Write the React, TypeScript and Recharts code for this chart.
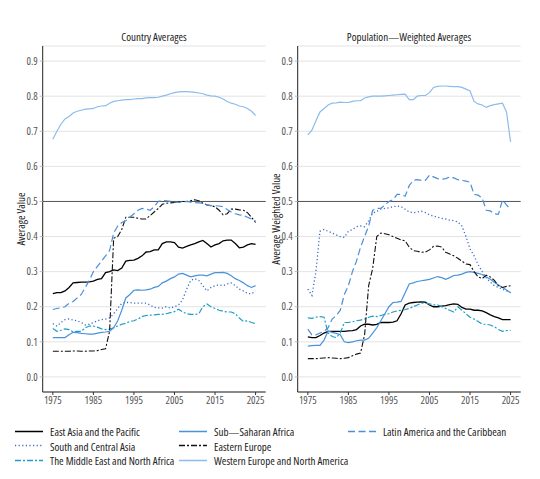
import React from 'react';
import { LineChart, Line, XAxis, YAxis, CartesianGrid, ReferenceLine } from 'recharts';

const FONT = "'Open Sans', 'Roboto', sans-serif";

const years = [
  1975, 1976, 1977, 1978, 1979, 1980, 1981, 1982, 1983, 1984, 1985, 1986, 1987, 1988, 1989,
  1990, 1991, 1992, 1993, 1994, 1995, 1996, 1997, 1998, 1999, 2000, 2001, 2002, 2003, 2004,
  2005, 2006, 2007, 2008, 2009, 2010, 2011, 2012, 2013, 2014, 2015, 2016, 2017, 2018, 2019,
  2020, 2021, 2022, 2023, 2024, 2025,
];
const xTicks = [1975, 1985, 1995, 2005, 2015, 2025];
const yTicks = [0, 0.1, 0.2, 0.3, 0.4, 0.5, 0.6, 0.7, 0.8, 0.9];

// Country averages
const eastAsiaAvg = [
  0.237, 0.24, 0.24, 0.245, 0.255, 0.268, 0.269, 0.27, 0.27, 0.271, 0.273, 0.278, 0.28, 0.297, 0.3,
  0.305, 0.303, 0.31, 0.33, 0.332, 0.333, 0.338, 0.345, 0.356, 0.357, 0.362, 0.362, 0.38, 0.385, 0.385,
  0.383, 0.37, 0.367, 0.372, 0.376, 0.38, 0.385, 0.389, 0.38, 0.37, 0.376, 0.38, 0.388, 0.39, 0.39,
  0.38, 0.368, 0.37, 0.376, 0.38, 0.378,
];
const southAsiaAvg = [
  0.152, 0.145, 0.155, 0.163, 0.165, 0.162, 0.16, 0.155, 0.148, 0.15, 0.155, 0.16, 0.163, 0.165, 0.168,
  0.18, 0.195, 0.21, 0.212, 0.212, 0.21, 0.21, 0.21, 0.21, 0.205, 0.198, 0.197, 0.196, 0.2, 0.196,
  0.2, 0.205, 0.22, 0.25, 0.275, 0.28, 0.275, 0.26, 0.245, 0.255, 0.26, 0.262, 0.26, 0.265, 0.268,
  0.26, 0.25, 0.245, 0.238, 0.237, 0.245,
];
const menaAvg = [
  0.138, 0.13, 0.133, 0.137, 0.135, 0.128, 0.13, 0.13, 0.14, 0.145, 0.145, 0.142, 0.137, 0.135, 0.136,
  0.14, 0.145, 0.15, 0.153, 0.158, 0.16, 0.165, 0.172, 0.175, 0.176, 0.177, 0.178, 0.178, 0.18, 0.183,
  0.186, 0.193, 0.185, 0.18, 0.178, 0.178, 0.18, 0.2, 0.208, 0.2, 0.195, 0.19, 0.187, 0.185, 0.185,
  0.18, 0.168, 0.158, 0.16, 0.155, 0.152,
];
const subSaharanAvg = [
  0.112, 0.112, 0.112, 0.112, 0.12, 0.127, 0.126, 0.124, 0.123, 0.122, 0.122, 0.125, 0.127, 0.128, 0.13,
  0.14, 0.16, 0.19, 0.225, 0.235, 0.247, 0.248, 0.247, 0.248, 0.25, 0.255, 0.258, 0.268, 0.273, 0.28,
  0.285, 0.293, 0.295, 0.29, 0.285, 0.288, 0.29, 0.29, 0.288, 0.293, 0.297, 0.297, 0.298, 0.295, 0.288,
  0.28, 0.275, 0.268, 0.26, 0.255, 0.26,
];
const easternEuropeAvg = [
  0.073, 0.073, 0.073, 0.073, 0.073, 0.074, 0.074, 0.073, 0.073, 0.074, 0.074, 0.075, 0.078, 0.08, 0.13,
  0.395, 0.4, 0.42, 0.455, 0.455, 0.455, 0.452, 0.45, 0.45, 0.46, 0.47, 0.48, 0.492, 0.495, 0.496,
  0.497, 0.498, 0.5, 0.5, 0.502, 0.505, 0.502, 0.495, 0.49, 0.488, 0.485, 0.475, 0.462, 0.465, 0.478,
  0.478, 0.476, 0.475, 0.468, 0.455, 0.44,
];
const westernEuropeAvg = [
  0.677, 0.7, 0.72, 0.735, 0.742, 0.752, 0.757, 0.76, 0.763, 0.764, 0.765, 0.77, 0.772, 0.773, 0.78,
  0.785, 0.787, 0.789, 0.79, 0.79, 0.792, 0.793, 0.793, 0.795, 0.796, 0.796, 0.797, 0.8, 0.803, 0.807,
  0.81, 0.812, 0.813, 0.813, 0.812, 0.811, 0.809, 0.807, 0.803, 0.801, 0.8, 0.797, 0.792, 0.785, 0.78,
  0.777, 0.772, 0.77, 0.765, 0.757, 0.745,
];
const latinAmericaAvg = [
  0.192, 0.195, 0.197, 0.2, 0.21, 0.215, 0.225, 0.235, 0.255, 0.275, 0.3, 0.315, 0.33, 0.345, 0.36,
  0.41, 0.43, 0.44, 0.445, 0.455, 0.465, 0.475, 0.48, 0.478, 0.475, 0.485, 0.5, 0.503, 0.502, 0.5,
  0.498, 0.497, 0.498, 0.5, 0.498, 0.497, 0.496, 0.495, 0.49, 0.488, 0.488, 0.487, 0.485, 0.477, 0.47,
  0.465, 0.462, 0.46, 0.455, 0.45, 0.445,
];

// Population-weighted averages
const eastAsiaW = [
  0.114, 0.112, 0.112, 0.118, 0.125, 0.13, 0.13, 0.13, 0.13, 0.13, 0.131, 0.132, 0.135, 0.145, 0.15,
  0.15, 0.148, 0.15, 0.155, 0.155, 0.155, 0.156, 0.16, 0.18, 0.205, 0.21, 0.212, 0.213, 0.214, 0.213,
  0.205, 0.2, 0.2, 0.202, 0.203, 0.206, 0.208, 0.207, 0.198, 0.193, 0.193, 0.19, 0.19, 0.188, 0.183,
  0.177, 0.172, 0.168, 0.163, 0.163, 0.163,
];
const southAsiaW = [
  0.25, 0.232, 0.3, 0.415, 0.42, 0.415, 0.41, 0.405, 0.4, 0.398, 0.415, 0.42, 0.428, 0.43, 0.428,
  0.445, 0.467, 0.472, 0.478, 0.48, 0.482, 0.485, 0.487, 0.485, 0.478, 0.47, 0.468, 0.47, 0.472, 0.468,
  0.462, 0.458, 0.455, 0.452, 0.45, 0.447, 0.445, 0.442, 0.43, 0.4, 0.365, 0.345, 0.32, 0.3, 0.282,
  0.27, 0.26, 0.255, 0.25, 0.245, 0.24,
];
const menaW = [
  0.168, 0.167, 0.17, 0.172, 0.17, 0.125, 0.115, 0.112, 0.125, 0.155, 0.155, 0.157, 0.16, 0.162, 0.165,
  0.17, 0.173, 0.172, 0.175, 0.178, 0.18, 0.185, 0.188, 0.19, 0.192, 0.195, 0.2, 0.205, 0.21, 0.21,
  0.208, 0.205, 0.205, 0.2, 0.195, 0.19, 0.185, 0.2, 0.19, 0.18, 0.17, 0.165, 0.158, 0.15, 0.15,
  0.148, 0.143, 0.135, 0.13, 0.132, 0.133,
];
const subSaharanW = [
  0.088, 0.089, 0.09, 0.09, 0.105, 0.13, 0.127, 0.124, 0.12, 0.1, 0.098, 0.1, 0.103, 0.105, 0.105,
  0.11, 0.125, 0.14, 0.16, 0.18, 0.2, 0.212, 0.213, 0.215, 0.24, 0.265, 0.268, 0.272, 0.274, 0.276,
  0.278, 0.282, 0.286, 0.283, 0.278, 0.283, 0.289, 0.29, 0.293, 0.298, 0.3, 0.298, 0.295, 0.292, 0.285,
  0.278, 0.27, 0.262, 0.255, 0.248, 0.24,
];
const easternEuropeW = [
  0.052, 0.052, 0.052, 0.053, 0.054, 0.055, 0.054, 0.053, 0.052, 0.053, 0.055, 0.06, 0.065, 0.068, 0.12,
  0.26, 0.31, 0.4, 0.41, 0.408, 0.405, 0.4, 0.395, 0.39, 0.388, 0.37, 0.36, 0.358, 0.355, 0.356,
  0.362, 0.372, 0.373, 0.37, 0.355, 0.35, 0.345, 0.338, 0.33, 0.322, 0.32, 0.3, 0.285, 0.28, 0.29,
  0.285, 0.275, 0.26, 0.255, 0.258, 0.26,
];
const westernEuropeW = [
  0.69, 0.703, 0.73, 0.755, 0.765, 0.775, 0.78, 0.781, 0.783, 0.782, 0.782, 0.785, 0.787, 0.787, 0.795,
  0.798, 0.8, 0.8, 0.8, 0.801, 0.802, 0.803, 0.804, 0.805, 0.806, 0.79, 0.79, 0.8, 0.802, 0.802,
  0.81, 0.825, 0.828, 0.829, 0.829, 0.828, 0.827, 0.827, 0.825, 0.82, 0.815, 0.785, 0.778, 0.775, 0.768,
  0.773, 0.776, 0.778, 0.78, 0.755, 0.67,
];
const latinAmericaW = [
  0.136, 0.12, 0.12, 0.125, 0.13, 0.14, 0.165, 0.175, 0.19, 0.235, 0.26, 0.3, 0.33, 0.37, 0.4,
  0.43, 0.475, 0.48, 0.48, 0.49, 0.5, 0.505, 0.52, 0.52, 0.515, 0.545, 0.56, 0.562, 0.56, 0.56,
  0.575, 0.57, 0.565, 0.563, 0.565, 0.57, 0.567, 0.562, 0.56, 0.558, 0.555, 0.52, 0.518, 0.51, 0.475,
  0.473, 0.465, 0.463, 0.505, 0.49, 0.477,
];

type Series = { key: string; name: string; color: string; dash?: string; width: number };

const series: Series[] = [
  { key: 'eastAsia', name: 'East Asia and the Pacific', color: '#000000', width: 1.3 },
  { key: 'southAsia', name: 'South and Central Asia', color: '#3a6cc4', dash: '1.2 2.4', width: 1.3 },
  { key: 'mena', name: 'The Middle East and North Africa', color: '#1c9ec6', dash: '6 2 2 2', width: 1.2 },
  { key: 'subSaharan', name: 'Sub\u2014Saharan Africa', color: '#4a92da', width: 1.2 },
  { key: 'easternEurope', name: 'Eastern Europe', color: '#111111', dash: '6 2 2 2', width: 1.1 },
  { key: 'westernEurope', name: 'Western Europe and North America', color: '#8cbcec', width: 1.2 },
  { key: 'latinAmerica', name: 'Latin America and the Caribbean', color: '#4a8fd8', dash: '7 3.5', width: 1.2 },
];

const buildRows = (cols: Record<string, number[]>) =>
  years.map((year, i) => {
    const row: Record<string, number> = { year };
    Object.keys(cols).forEach((k) => (row[k] = cols[k][i]));
    return row;
  });

const countryData = buildRows({
  eastAsia: eastAsiaAvg, southAsia: southAsiaAvg, mena: menaAvg, subSaharan: subSaharanAvg,
  easternEurope: easternEuropeAvg, westernEurope: westernEuropeAvg, latinAmerica: latinAmericaAvg,
});
const weightedData = buildRows({
  eastAsia: eastAsiaW, southAsia: southAsiaW, mena: menaW, subSaharan: subSaharanW,
  easternEurope: easternEuropeW, westernEurope: westernEuropeW, latinAmerica: latinAmericaW,
});

const tickStyle = { fontSize: 10.5, fill: '#555', fontFamily: FONT };

function Panel({ data, yWidth, rightMargin }: { data: any[]; yWidth: number; rightMargin: number }) {
  return (
    <LineChart width={270} height={410} data={data} margin={{ top: 46, right: rightMargin, left: 0, bottom: 0 }}>
      <CartesianGrid vertical={false} stroke="#dcdcdc" strokeWidth={0.8} />
      <XAxis
        dataKey="year"
        type="number"
        domain={[1972.5, 2027.5]}
        ticks={xTicks}
        height={18}
        tick={tickStyle}
        tickSize={3}
        stroke="#222"
        tickLine={{ stroke: '#333' }}
      />
      <YAxis
        type="number"
        domain={[-0.043, 0.943]}
        ticks={yTicks}
        width={yWidth}
        tick={tickStyle}
        tickFormatter={(v: number) => v.toFixed(1)}
        tickSize={3}
        tickMargin={2}
        stroke="#222"
        tickLine={{ stroke: '#bbb' }}
        allowDataOverflow
      />
      <ReferenceLine y={0.5} stroke="#555" strokeWidth={1} />
      {series.map((s) => (
        <Line
          key={s.key}
          dataKey={s.key}
          name={s.name}
          type="linear"
          stroke={s.color}
          strokeWidth={s.width}
          strokeDasharray={s.dash}
          dot={false}
          isAnimationActive={false}
        />
      ))}
    </LineChart>
  );
}

const textBase: React.CSSProperties = {
  position: 'absolute', fontFamily: FONT, fontStretch: 'condensed', color: '#222', whiteSpace: 'nowrap', lineHeight: 1,
};

export default function App() {
  const legendCols = [
    { x: 15, items: series.slice(0, 3) },
    { x: 179, items: series.slice(3, 6) },
    { x: 348, items: series.slice(6) },
  ];
  return (
    <div style={{ position: 'fixed', left: 0, top: 0, width: 540, height: 479, background: '#fff', overflow: 'hidden' }}>
      <style>{'svg text { font-stretch: condensed; }'}</style>
      <div style={{ position: 'absolute', left: 0, top: 0 }}>
        <Panel data={countryData} yWidth={42.7} rightMargin={4.3} />
      </div>
      <div style={{ position: 'absolute', left: 270, top: 0 }}>
        <Panel data={weightedData} yWidth={27.7} rightMargin={19.3} />
      </div>

      <div style={{ ...textBase, left: 154, top: 36, fontSize: 11, transform: 'translate(-50%, -50%)' }}>Country Averages</div>
      <div style={{ ...textBase, left: 409, top: 36, fontSize: 11, transform: 'translate(-50%, -50%)' }}>
        Population{'\u2014'}Weighted Averages
      </div>
      <div style={{ ...textBase, left: 20, top: 219, fontSize: 11, transform: 'translate(-50%, -50%) rotate(-90deg)' }}>
        Average Value
      </div>
      <div style={{ ...textBase, left: 275, top: 219, fontSize: 11, transform: 'translate(-50%, -50%) rotate(-90deg)' }}>
        Average Weighted Value
      </div>

      {legendCols.map((col) =>
        col.items.map((s, i) => (
          <div key={s.key} style={{ position: 'absolute', left: col.x, top: 431 + i * 14.6, transform: 'translateY(-50%)', display: 'flex', alignItems: 'center' }}>
            <svg width={28} height={6} style={{ display: 'block' }}>
              <line x1={0} y1={3} x2={28} y2={3} stroke={s.color} strokeWidth={s.width + 0.2} strokeDasharray={s.dash} />
            </svg>
            <span style={{ ...textBase, position: 'static', fontSize: 11, marginLeft: 7 }}>{s.name}</span>
          </div>
        ))
      )}
    </div>
  );
}
